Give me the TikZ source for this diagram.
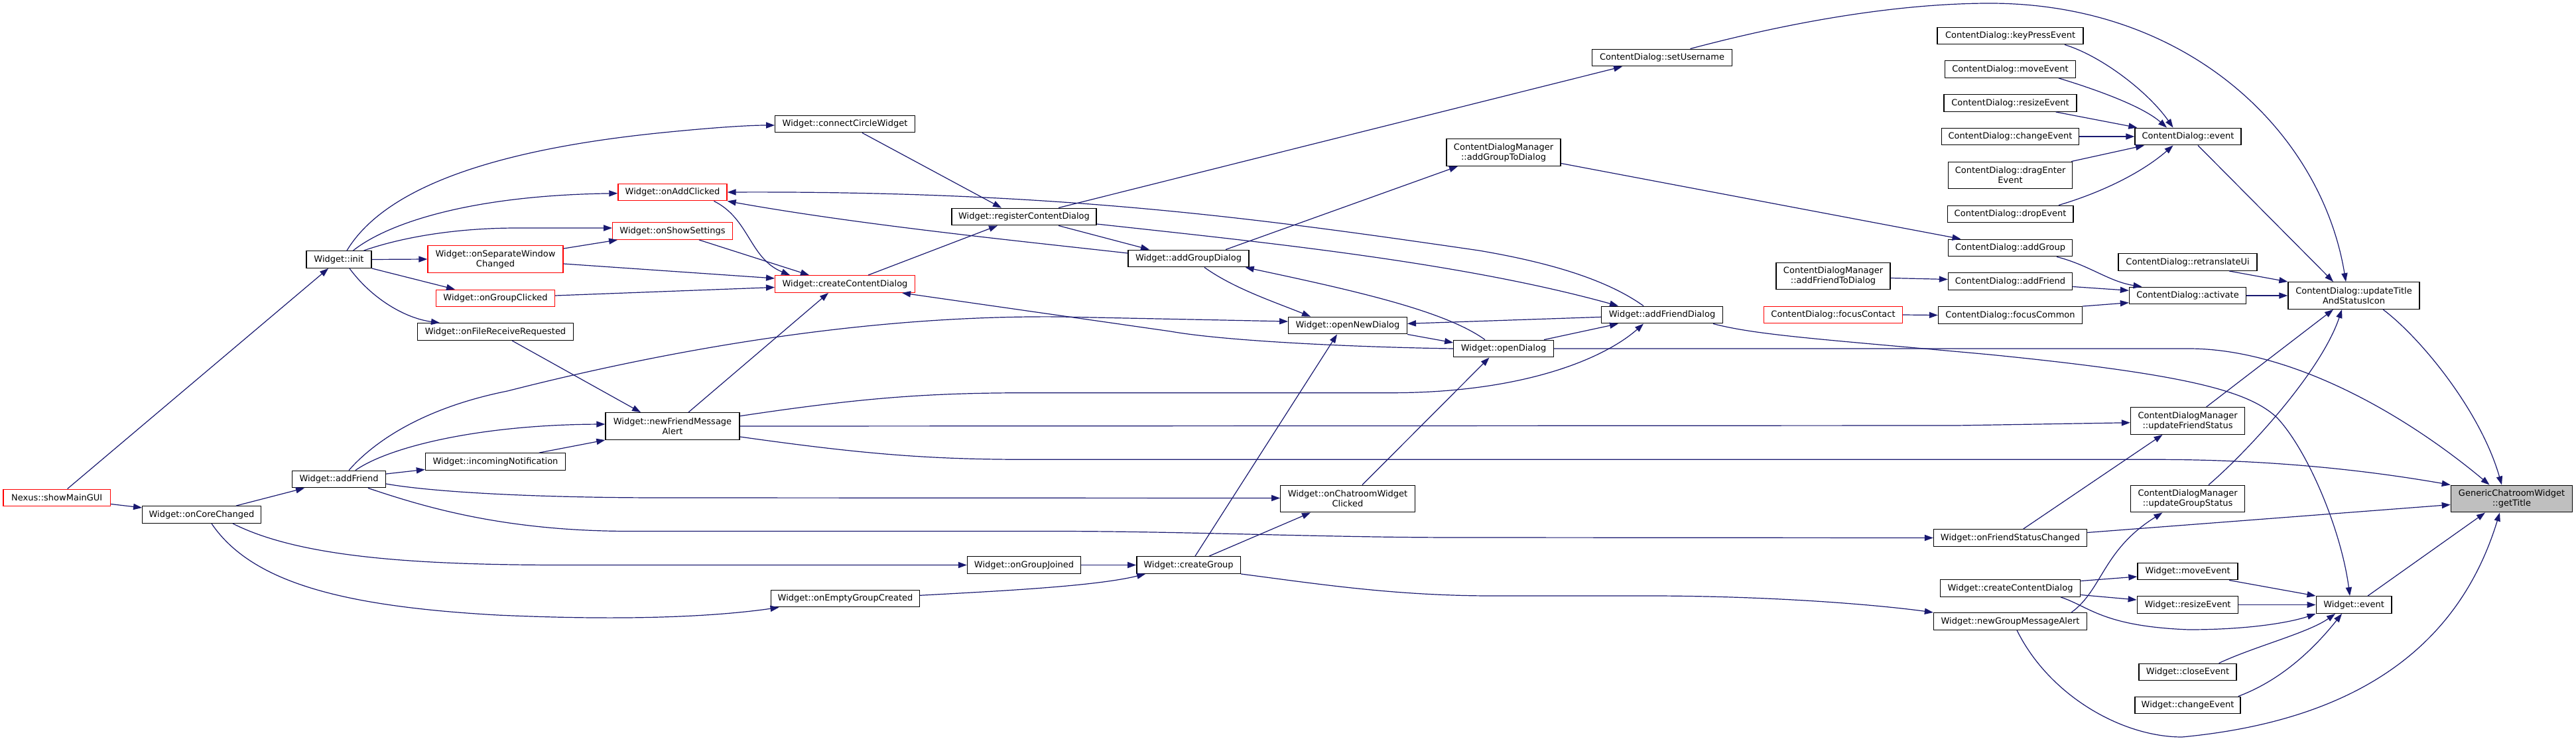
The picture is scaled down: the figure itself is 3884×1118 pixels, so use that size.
\documentclass[tikz,border=0pt]{standalone}
\usepackage{fontspec}
\setmainfont{DejaVu Sans}
\usetikzlibrary{arrows.meta}
\definecolor{edgeblue}{HTML}{191970}
\definecolor{rootgray}{HTML}{BFBFBF}
\begin{document}
\begin{tikzpicture}[x=0.5pt,y=-0.5pt,
  box/.style={draw=black, line width=0.7pt, fill=white, inner sep=0pt, font=\fontsize{6.5pt}{7.5pt}\selectfont, align=center, minimum height=12.75pt},
  tall/.style={minimum height=20.25pt},
  bw/.style={minimum width=#1*0.5pt},
  trunc/.style={draw=red},
  cedge/.style={draw=edgeblue, line width=0.6pt, -{Triangle[length=6.5pt,width=4.6pt]}}]
\fill[white] (0,0) rectangle (3884,1118);
\useasboundingbox (0,0) rectangle (3884,1118);

\node[box,trunc,bw=161.5] (showMain) at (85.75,751) {Nexus::showMainGUI};
\node[box,bw=178.5] (onCoreChanged) at (304,776.5) {Widget::onCoreChanged};
\node[box,bw=98] (init) at (511,391.5) {Widget::init};
\node[box,bw=140.6] (addFriend) at (511,723) {Widget::addFriend};
\node[box,trunc,tall,bw=204] (onSepWin) at (747,391) {Widget::onSeparateWindow\\Changed};
\node[box,trunc,bw=178.5] (onGroupClicked) at (747,450) {Widget::onGroupClicked};
\node[box,bw=235.5] (onFileRecv) at (747,500.5) {Widget::onFileReceiveRequested};
\node[box,bw=211] (incomingNotif) at (747,696.5) {Widget::incomingNotification};
\node[box,trunc,bw=164] (onAddClicked) at (1014,290) {Widget::onAddClicked};
\node[box,trunc,bw=180.5] (onShowSettings) at (1014,348.5) {Widget::onShowSettings};
\node[box,tall,bw=202] (newFriendMsg) at (1014,643) {Widget::newFriendMessage\\Alert};
\node[box,bw=224] (onEmptyGroup) at (1274.5,903) {Widget::onEmptyGroupCreated};
\node[box,bw=210.5] (connectCircle) at (1274,187) {Widget::connectCircleWidget};
\node[box,trunc,bw=210.5] (createCD) at (1274,428.5) {Widget::createContentDialog};
\node[box,bw=218] (registerCD) at (1544,327) {Widget::registerContentDialog};
\node[box,bw=171] (onGroupJoined) at (1544,852.5) {Widget::onGroupJoined};
\node[box,bw=182] (addGroupDialog) at (1792,390) {Widget::addGroupDialog};
\node[box,bw=156.4] (createGroup) at (1792,852.5) {Widget::createGroup};
\node[box,bw=178.5] (openNewDialog) at (2032,491) {Widget::openNewDialog};
\node[box,tall,bw=202.5] (onChatroom) at (2032,752.5) {Widget::onChatroomWidget\\Clicked};
\node[box,bw=150.5] (openDialog) at (2267,526) {Widget::openDialog};
\node[box,tall,bw=172] (addGroupToDialog) at (2267,230) {ContentDialogManager\\::addGroupToDialog};
\node[box,bw=210.6] (setUsername) at (2506,87) {ContentDialog::setUsername};
\node[box,bw=182.6] (addFriendDialog) at (2506,475) {Widget::addFriendDialog};
\node[box,tall,bw=172] (addFriendToDialog) at (2764,416.5) {ContentDialogManager\\::addFriendToDialog};
\node[box,trunc,bw=208.6] (focusContact) at (2764,475) {ContentDialog::focusContact};
\node[box,bw=220] (keyPress) at (3031,54) {ContentDialog::keyPressEvent};
\node[box,bw=197.4] (CDmove) at (3031,104.5) {ContentDialog::moveEvent};
\node[box,bw=200] (CDresize) at (3031,155.5) {ContentDialog::resizeEvent};
\node[box,bw=207] (CDchange) at (3031,206) {ContentDialog::changeEvent};
\node[box,tall,bw=187] (dragEnter) at (3031,264.5) {ContentDialog::dragEnter\\Event};
\node[box,bw=189.6] (drop) at (3031,323) {ContentDialog::dropEvent};
\node[box,bw=187] (CDaddGroup) at (3031,374) {ContentDialog::addGroup};
\node[box,bw=187] (CDaddFriend) at (3031,424.5) {ContentDialog::addFriend};
\node[box,bw=217] (focusCommon) at (3031,475.5) {ContentDialog::focusCommon};
\node[box,bw=231] (onFriendStatus) at (3031,811.5) {Widget::onFriendStatusChanged};
\node[box,bw=211] (createCD2) at (3031,887.5) {Widget::createContentDialog};
\node[box,bw=231] (newGroupMsg) at (3031,937.5) {Widget::newGroupMessageAlert};
\node[box,bw=160] (CDevent) at (3299,206) {ContentDialog::event};
\node[box,bw=208.7] (retranslate) at (3298.5,395.5) {ContentDialog::retranslateUi};
\node[box,bw=176] (activate) at (3298.5,446) {ContentDialog::activate};
\node[box,tall,bw=172] (updFriend) at (3298.5,635) {ContentDialogManager\\::updateFriendStatus};
\node[box,tall,bw=172] (updGroup) at (3298.5,752.5) {ContentDialogManager\\::updateGroupStatus};
\node[box,bw=151] (Wmove) at (3298.5,862) {Widget::moveEvent};
\node[box,bw=152.4] (Wresize) at (3298.5,912.5) {Widget::resizeEvent};
\node[box,bw=147] (Wclose) at (3298.5,1014) {Widget::closeEvent};
\node[box,bw=159] (Wchange) at (3298.5,1064) {Widget::changeEvent};
\node[box,tall,bw=198] (updTitle) at (3549,446) {ContentDialog::updateTitle\\AndStatusIcon};
\node[box,bw=113.6] (Wevent) at (3549,912.5) {Widget::event};
\node[box,tall,bw=183.3,fill=rootgray] (getTitle) at (3787,752.5) {GenericChatroomWidget\\::getTitle};

% left part
\draw[cedge] (showMain) -- (init);
\draw[cedge] (showMain) -- (onCoreChanged);
\draw[cedge] (onCoreChanged) -- (addFriend);
\draw[cedge] ([shift={(47,0)}]onCoreChanged.south) .. controls (450,840) and (620,852.5) .. (850,852.5) -- (onGroupJoined.west);
\draw[cedge] ([shift={(15,0)}]onCoreChanged.south) .. controls (380,880) and (520,915) .. (750,928) .. controls (950,937) and (1080,930) .. ([shift={(-100,0)}]onEmptyGroup.south);
\draw[cedge] (addFriend) -- (incomingNotif);
\draw[cedge] ([shift={(25,0)}]addFriend.north) .. controls (585,675) and (720,641) .. ([shift={(0,-3)}]newFriendMsg.west);
\draw[cedge] ([shift={(15,0)}]addFriend.north) .. controls (565,665) and (640,615) .. (765,590) .. controls (1000,530) and (1300,475) .. (1600,478) -- ([shift={(0,-6)}]openNewDialog.west);
\draw[cedge] ([shift={(0,7)}]addFriend.east) .. controls (650,742) and (800,751) .. (1000,751) -- ([shift={(0,-1)}]onChatroom.west);
\draw[cedge] ([shift={(44,0)}]addFriend.south) .. controls (640,765) and (760,801.5) .. (950,801.5) -- (1600,801.5) .. controls (1800,802) and (2000,811) .. (2200,811) -- (onFriendStatus.west);
\draw[cedge] ([shift={(24,0)}]newFriendMsg.north) -- ([shift={(-25,0)}]createCD.south);
\draw[cedge] ([shift={(0,-15.3)}]newFriendMsg.east) .. controls (1300,600) and (1400,592.7) .. (1550,592.7) -- (2100,592.7) .. controls (2300,592) and (2420,540) .. ([shift={(-28,0)}]addFriendDialog.south);
\draw[cedge] (newFriendMsg.east) -- (2950,642) -- ([shift={(0,2.7)}]updFriend.west);
\draw[cedge] ([shift={(0,16)}]newFriendMsg.east) .. controls (1300,685) and (1400,693.3) .. (1550,693.3) -- (3250,693.3) .. controls (3450,693.3) and (3600,715) .. (getTitle.north west);
\draw[cedge] ([shift={(25,0)}]onFileRecv.south) -- ([shift={(-48,0)}]newFriendMsg.north);
\draw[cedge] ([shift={(66,0)}]incomingNotif.north) -- (newFriendMsg.south west);

\draw[cedge] ([shift={(12,0)}]init.north) .. controls (570,300) and (700,230) .. (1000,200) .. controls (1080,192) and (1130,189) .. ([shift={(0,2)}]connectCircle.west);
\draw[cedge] ([shift={(21.5,0)}]init.north) .. controls (580,340) and (700,295) .. ([shift={(0,1.7)}]onAddClicked.west);
\draw[cedge] ([shift={(37.5,0)}]init.north) .. controls (600,360) and (680,344) .. (780,344) -- ([shift={(0,-4.5)}]onShowSettings.west);
\draw[cedge] (init.east) -- (onSepWin.west);
\draw[cedge] (init.south east) -- ([shift={(-61,0)}]onGroupClicked.north);
\draw[cedge] ([shift={(16,0)}]init.south) .. controls (560,450) and (610,480) .. ([shift={(-84,0)}]onFileRecv.north);

\draw[cedge] ([shift={(0,-16)}]onSepWin.east) -- ([shift={(8,0)}]onShowSettings.south west);
\draw[cedge] ([shift={(0,7)}]onSepWin.east) -- ([shift={(0,-8.5)}]createCD.west);
\draw[cedge] ([shift={(0,-4)}]onGroupClicked.east) -- ([shift={(0,5)}]createCD.west);
\draw[cedge] ([shift={(62.5,0)}]onAddClicked.south) .. controls (1130,330) and (1130,390) .. ([shift={(-83,0)}]createCD.north);
\draw[cedge] ([shift={(40,0)}]onShowSettings.south) -- ([shift={(-54,0)}]createCD.north);
\draw[cedge] ([shift={(0,-8)}]addGroupDialog.west) .. controls (1550,365) and (1300,340) .. (onAddClicked.south east);
\draw[cedge] ([shift={(-28,0)}]addFriendDialog.north) .. controls (2420,420) and (2330,395) .. (2230,378) .. controls (1900,330) and (1600,288) .. (onAddClicked.east);

% middle part
\draw[cedge] ([shift={(0,11)}]registerCD.east) .. controls (1900,365) and (2200,395) .. ([shift={(-66,0)}]addFriendDialog.north);
\draw[cedge] ([shift={(52,0)}]registerCD.north) -- ([shift={(-60,0)}]setUsername.south);
\draw[cedge] ([shift={(52,0)}]registerCD.south) -- ([shift={(-59,0)}]addGroupDialog.north);
\draw[cedge] ([shift={(26,0)}]connectCircle.south) -- ([shift={(-34,0)}]registerCD.north);
\draw[cedge] ([shift={(35,0)}]createCD.north) -- ([shift={(-40,0)}]registerCD.south);
\draw[cedge] ([shift={(56,0)}]addGroupDialog.north) -- ([shift={(-69,0)}]addGroupToDialog.south);
\draw[cedge] ([shift={(24,0)}]addGroupDialog.south) .. controls (1860,435) and (1920,455) .. ([shift={(-56,0)}]openNewDialog.north);
\draw[cedge] ([shift={(-28,0)}]openDialog.north) .. controls (2180,470) and (2050,440) .. ([shift={(-6,0)}]addGroupDialog.south east);
\draw[cedge] ([shift={(0,3.3)}]addFriendDialog.west) -- ([shift={(0,-2.7)}]openNewDialog.east);
\draw[cedge] (openNewDialog.south east) -- ([shift={(0,-9)}]openDialog.west);
\draw[cedge] ([shift={(61,0)}]openDialog.north) -- ([shift={(-66,0)}]addFriendDialog.south);
\draw[cedge] (openDialog.west) .. controls (2050,524) and (1850,515) .. (1765,500) -- ([shift={(86,0)}]createCD.south);
\draw[cedge] (openDialog.east) -- (3300,526) .. controls (3450,526) and (3620,620) .. ([shift={(-33.5,0)}]getTitle.north);
\draw[cedge] ([shift={(77,0)}]addFriendDialog.south) .. controls (2650,506) and (2750,512) .. (3000,535) .. controls (3300,565) and (3390,590) .. (3433,630) .. controls (3480,680) and (3530,800) .. ([shift={(-6,0)}]Wevent.north);

\draw[cedge] (onGroupJoined.east) -- (createGroup.west);
\draw[cedge] ([shift={(0,-4.7)}]onEmptyGroup.east) .. controls (1500,892) and (1650,885) .. ([shift={(14,0)}]createGroup.south west);
\draw[cedge] ([shift={(10,0)}]createGroup.north) -- ([shift={(-16,0)}]openNewDialog.south);
\draw[cedge] ([shift={(31,0)}]createGroup.north) -- ([shift={(-56,0)}]onChatroom.south);
\draw[cedge] (createGroup.south east) .. controls (1980,880) and (2100,899) .. (2250,899) -- (2500,899) .. controls (2700,900) and (2850,915) .. (newGroupMsg.north west);
\draw[cedge] ([shift={(22,0)}]onChatroom.north) -- ([shift={(-21.5,0)}]openDialog.south);

% right part
\draw[cedge] ([shift={(42.5,0)}]setUsername.north) .. controls (2750,20) and (2900,5) .. (3000,5) .. controls (3300,5) and (3500,200) .. ([shift={(-12,0)}]updTitle.north);
\draw[cedge] ([shift={(15,0)}]CDevent.south) -- ([shift={(-31,0)}]updTitle.north);
\draw[cedge] ([shift={(62.5,0)}]retranslate.south) -- (updTitle.north west);
\draw[cedge] (activate.east) -- (updTitle.west);
\draw[cedge] ([shift={(28,0)}]updFriend.north) -- ([shift={(-31,0)}]updTitle.south);
\draw[cedge] ([shift={(31.5,0)}]updGroup.north) .. controls (3390,680) and (3500,560) .. ([shift={(-18,0)}]updTitle.south);
\draw[cedge] ([shift={(44,0)}]updTitle.south) .. controls (3650,510) and (3740,620) .. ([shift={(-15,0)}]getTitle.north);

\draw[cedge] ([shift={(82,0)}]keyPress.south) .. controls (3170,85) and (3240,140) .. ([shift={(-22.5,0)}]CDevent.north);
\draw[cedge] ([shift={(73,0)}]CDmove.south) .. controls (3160,135) and (3230,160) .. ([shift={(-32,0)}]CDevent.north);
\draw[cedge] ([shift={(68.6,0)}]CDresize.south) -- ([shift={(4,0)}]CDevent.north west);
\draw[cedge] (CDchange.east) -- (CDevent.west);
\draw[cedge] ([shift={(-2,0)}]dragEnter.north east) -- ([shift={(-66,0)}]CDevent.south);
\draw[cedge] ([shift={(73,0)}]drop.north) .. controls (3170,290) and (3230,260) .. ([shift={(-22.5,0)}]CDevent.south);

\draw[cedge] ([shift={(0,16.5)}]addGroupToDialog.east) -- ([shift={(-74.5,0)}]CDaddGroup.north);
\draw[cedge] ([shift={(0,3)}]addFriendToDialog.east) -- ([shift={(0,-3)}]CDaddFriend.west);
\draw[cedge] (focusContact.east) -- (focusCommon.west);
\draw[cedge] ([shift={(70,0)}]CDaddGroup.south) .. controls (3150,400) and (3180,425) .. ([shift={(-69,0)}]activate.north);
\draw[cedge] ([shift={(0,8)}]CDaddFriend.east) -- ([shift={(0,-7.7)}]activate.west);
\draw[cedge] (focusCommon.north east) -- ([shift={(0,10.7)}]activate.west);

\draw[cedge] ([shift={(19.6,0)}]onFriendStatus.north) -- ([shift={(-38,0)}]updFriend.south);
\draw[cedge] ([shift={(0,-8)}]onFriendStatus.east) -- ([shift={(0,9)}]getTitle.west);
\draw[cedge] ([shift={(92,0)}]newGroupMsg.north) .. controls (3170,890) and (3170,830) .. ([shift={(-38,0)}]updGroup.south);
\draw[cedge] ([shift={(10,0)}]newGroupMsg.south) .. controls (3090,1050) and (3200,1112) .. (3290,1112) .. controls (3520,1090) and (3700,1000) .. ([shift={(-18,0)}]getTitle.south);
\draw[cedge] ([shift={(21,0)}]Wevent.north) -- ([shift={(-40,0)}]getTitle.south);
\draw[cedge] ([shift={(0,-11)}]createCD2.east) -- ([shift={(0,8)}]Wmove.west);
\draw[cedge] ([shift={(0,10)}]createCD2.east) -- ([shift={(0,-7.5)}]Wresize.west);
\draw[cedge] ([shift={(76,0)}]createCD2.south) .. controls (3150,915) and (3170,945) .. (3300,950) .. controls (3400,950) and (3460,937) .. (Wevent.south west);
\draw[cedge] ([shift={(62.5,0)}]Wmove.south) -- (Wevent.north west);
\draw[cedge] (Wresize.east) -- (Wevent.west);
\draw[cedge] ([shift={(47,0)}]Wclose.north) .. controls (3400,975) and (3480,955) .. ([shift={(-28,0)}]Wevent.south);
\draw[cedge] ([shift={(-4,0)}]Wchange.north east) .. controls (3430,1030) and (3480,990) .. ([shift={(-18,0)}]Wevent.south);
\end{tikzpicture}
\end{document}
